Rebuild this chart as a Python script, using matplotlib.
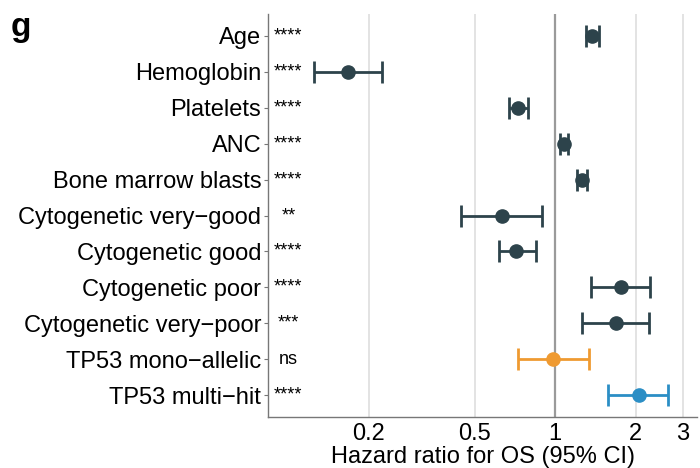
import numpy as np
import matplotlib
matplotlib.use('Agg')
import matplotlib.pyplot as plt
from matplotlib.ticker import FixedLocator, NullLocator

plt.rcParams['font.family'] = ['Liberation Sans', 'DejaVu Sans']

labels = ["Age", "Hemoglobin", "Platelets", "ANC", "Bone marrow blasts",
          "Cytogenetic very\u2212good", "Cytogenetic good", "Cytogenetic poor",
          "Cytogenetic very\u2212poor", "TP53 mono\u2212allelic", "TP53 multi\u2212hit"]
hr = [1.377, 0.167, 0.726, 1.08, 1.254, 0.630, 0.715, 1.758, 1.684, 0.977, 2.05]
ci_low = [1.30, 0.125, 0.668, 1.044, 1.205, 0.443, 0.615, 1.36, 1.257, 0.724, 1.578]
ci_high = [1.46, 0.224, 0.791, 1.12, 1.309, 0.894, 0.845, 2.26, 2.24, 1.34, 2.65]
signif = ["****", "****", "****", "****", "****", "**", "****", "****", "***", "ns", "****"]

DARK = "#2d434b"
colors = [DARK] * 9 + ["#ef9a31", "#2b8ec5"]

fig = plt.figure(figsize=(7, 4.68), dpi=100)
ax = fig.add_axes([0.383, 0.109, 0.613, 0.861])

n = len(labels)
ypos = np.arange(n, 0, -1)

ax.set_xscale('log')
ax.set_xlim(0.084, 3.4)
ax.set_ylim(0.39, n + 0.61)

ticks = [0.2, 0.5, 1, 2, 3]
for t in ticks:
    if t == 1:
        ax.axvline(t, color="#9a9a9a", lw=1.6, zorder=1)
    else:
        ax.axvline(t, color="#dedede", lw=1.2, zorder=0)

for y, h, lo, hi, c, s in zip(ypos, hr, ci_low, ci_high, colors, signif):
    ax.errorbar(h, y, xerr=[[h - lo], [hi - h]], fmt='o', color=c, ms=9.5,
                elinewidth=2, capsize=8, capthick=2, zorder=3)
    ax.text(0.1, y, s, ha='center', va='center', fontsize=13, color='black')

ax.xaxis.set_major_locator(FixedLocator(ticks))
ax.xaxis.set_minor_locator(NullLocator())
ax.set_xticklabels(["0.2", "0.5", "1", "2", "3"])
ax.tick_params(axis='x', length=0, labelsize=17, pad=4)
ax.set_yticks(ypos)
ax.set_yticklabels(labels)
ax.tick_params(axis='y', length=3, width=0.8, color="#777777", labelsize=17, pad=2)
ax.set_xlabel("Hazard ratio for OS (95% CI)", fontsize=17, labelpad=1)

for side in ['top', 'right']:
    ax.spines[side].set_visible(False)
for side in ['left', 'bottom']:
    ax.spines[side].set_color("#777777")
    ax.spines[side].set_linewidth(1.0)

fig.text(0.015, 0.975, "g", fontsize=24, fontweight='bold', va='top', ha='left')

fig.savefig("out.png", dpi=100)
